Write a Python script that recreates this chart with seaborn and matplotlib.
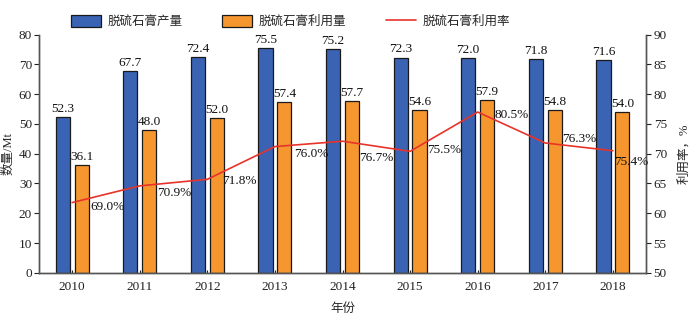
import numpy as np
import pandas as pd
import matplotlib
matplotlib.use("Agg")
import matplotlib.pyplot as plt
import seaborn as sns

# ---- data ----
years = ["2010", "2011", "2012", "2013", "2014", "2015", "2016", "2017", "2018"]
production = [52.3, 67.7, 72.4, 75.5, 75.2, 72.3, 72.0, 71.8, 71.6]
utilization = [36.1, 48.0, 52.0, 57.4, 57.7, 54.6, 57.9, 54.8, 54.0]
# utilization rate as labelled (%)
rate_labels = [69.0, 70.9, 71.8, 76.0, 76.7, 75.5, 80.5, 76.3, 75.4]
# utilization-rate line as drawn against the right axis
rate_line = [61.8, 64.6, 65.7, 71.2, 72.1, 70.4, 77.0, 71.8, 70.5]
series_names = ["脱硫石膏产量", "脱硫石膏利用量"]
line_name = "脱硫石膏利用率"

# ---- layout (label offsets in pixels: right, down) ----
label_offsets = [(18, 4), (17, 7), (15, 2), (19, 7), (17, 17), (17, -1), (17, 3), (17, -4), (1, 11)]

sns.set_theme(style="white")
plt.rcParams["font.family"] = ["Liberation Serif", "Noto Sans CJK SC", "DejaVu Sans"]
plt.rcParams["font.size"] = 9

df = pd.DataFrame({
    "year": years * 2,
    "value": production + utilization,
    "kind": [series_names[0]] * len(years) + [series_names[1]] * len(years),
})

fig = plt.figure(figsize=(6.98, 3.36), dpi=100)
ax = fig.add_axes([0.0559, 0.188, 0.9255 - 0.0559, 0.897 - 0.188])

colors = ["#3A63B4", "#F5962F"]
sns.barplot(data=df, x="year", y="value", hue="kind", order=years,
            hue_order=series_names, palette=colors, width=0.56, gap=0.25,
            edgecolor="#1a1a1a", linewidth=0.9, saturation=1, ax=ax, legend=True)
handles, labels = ax.get_legend_handles_labels()
if ax.get_legend() is not None:
    ax.get_legend().remove()

for cont in ax.containers:
    ax.bar_label(cont, fmt="%.1f", padding=1.5, fontsize=9.5, color="#111111")

ax.set_ylim(0, 80)
ax.set_yticks(np.arange(0, 81, 10))
ax.set_xlim(-0.49, 8.49)
ax.set_xlabel("年份", fontsize=9)
ax.set_ylabel("数量/Mt", fontsize=9)
ax.xaxis.set_label_coords(0.5, -0.125)
ax.yaxis.set_label_coords(-0.041, 0.5)
ax.tick_params(axis="y", direction="out", length=3.5, width=0.8, pad=1.5, labelsize=9.5, left=True, colors="#222222")
ax.tick_params(axis="x", direction="in", length=2.5, width=0.8, pad=6, labelsize=9.5, bottom=True, colors="#222222")
ax.spines["top"].set_visible(False)
for s in ["left", "bottom", "right"]:
    ax.spines[s].set_color("#555555")
    ax.spines[s].set_linewidth(1.0)

ax2 = ax.twinx()
xpos = np.arange(len(years))
sns.lineplot(x=xpos, y=rate_line, ax=ax2, color="#E8332A", linewidth=1.2, label=line_name, legend=False)
ax2.set_ylim(50, 90)
ax2.set_yticks(np.arange(50, 91, 5))
ax2.set_ylabel("利用率，%", fontsize=9)
ax2.yaxis.set_label_coords(1.053, 0.5)
ax2.tick_params(axis="y", direction="out", length=3.5, width=0.8, pad=2, labelsize=9.5, right=True, colors="#222222")
ax2.spines["top"].set_visible(False)
for s in ["left", "bottom", "right"]:
    ax2.spines[s].set_color("#555555")
    ax2.spines[s].set_linewidth(1.0)

for i, (lab, val) in enumerate(zip(rate_labels, rate_line)):
    dx, dy = label_offsets[i]
    ax2.annotate(f"{lab:.1f}%", (xpos[i], val), xytext=(dx, -dy), textcoords="offset pixels",
                 ha="left", va="center", fontsize=9.5, color="#111111")

lh, ll = ax2.get_legend_handles_labels()
fig.legend(handles + lh, labels + ll, loc="center", bbox_to_anchor=(0.416, 0.935),
           ncol=3, frameon=False, fontsize=9, handlelength=2.4, handleheight=1.0,
           columnspacing=3.2, handletextpad=0.5)

fig.savefig("out.png", dpi=100)
